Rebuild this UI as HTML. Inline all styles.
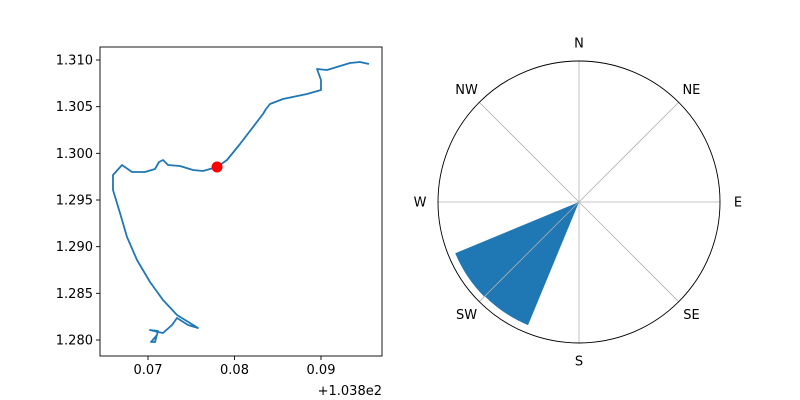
<!DOCTYPE html>
<html><head><meta charset="utf-8"><style>
html,body{margin:0;padding:0;background:#fff}
svg{display:block;font-family:"DejaVu Sans","Liberation Sans",sans-serif}
</style></head><body>
<svg id="c" width="800" height="400" viewBox="0 0 800 400"></svg>
<script>
// ---- left track data (x offset from 103.8) ----
const trackX=[0.09555,0.09451,0.09335,0.09069,0.08954,0.09000,0.09000,0.08838,0.08561,0.08410,0.08364,0.08329,0.08064,0.07913,0.07798,0.07636,0.07520,0.07370,0.07231,0.07173,0.07127,0.07081,0.06965,0.06815,0.06699,0.06595,0.06595,0.06676,0.06757,0.06873,0.07023,0.07173,0.07335,0.07578,0.07462,0.07335,0.07277,0.07173,0.07116,0.07023,0.07116,0.07081,0.07035,0.07104];
const trackY=[1.30957,1.30979,1.30968,1.30893,1.30904,1.30786,1.30679,1.30636,1.30582,1.30529,1.30475,1.30421,1.30100,1.29929,1.29854,1.29811,1.29821,1.29864,1.29875,1.29929,1.29907,1.29832,1.29800,1.29800,1.29875,1.29768,1.29607,1.29361,1.29104,1.28857,1.28621,1.28429,1.28268,1.28129,1.28161,1.28236,1.28161,1.28075,1.28086,1.28107,1.28096,1.27979,1.27979,1.28054];
const markerX=[0.07798];
const markerY=[1.29854];
const xTicks=[0.07,0.08,0.09];
const xTickLabels=["0.07","0.08","0.09"];
const yTicks=[1.280,1.285,1.290,1.295,1.300,1.305,1.310];
const yTickLabels=["1.280","1.285","1.290","1.295","1.300","1.305","1.310"];
// ---- polar data ----
const dirNames=["N","NE","E","SE","S","SW","W","NW"];
const barAngles=[213.75,236.25]; // bar centers, compass degrees
const barWidth=[22.5,22.5];
const barValues=[0.945,0.95]; // fraction of max radius

const NS="http://www.w3.org/2000/svg";
const svg=document.getElementById('c');
function mk(t,a,p){const e=document.createElementNS(NS,t);for(const k in a)e.setAttribute(k,a[k]);(p||svg).appendChild(e);return e;}

// left axes
const L=100,R=382,T=47,B=356;
const sx=v=>148+(v-0.07)*8650;
const sy=v=>60+(1.310-v)*9333.3;
const gL=mk('g',{});


let d='';
trackX.forEach((x,i)=>{d+=(i?'L':'M')+sx(x).toFixed(1)+' '+sy(trackY[i]).toFixed(1);});
const line=mk('path',{d:d,fill:'none',stroke:'#1f77b4','stroke-width':1.8,'stroke-linejoin':'round'},gL);


markerX.forEach((x,i)=>{
 const c=mk('circle',{cx:sx(x),cy:sy(markerY[i]),r:5.5,fill:'#ff0000'},gL);
 
 
});
const frame=mk('rect',{x:L,y:T,width:R-L,height:B-T,fill:'none',stroke:'#000','stroke-width':0.9},gL);


xTicks.forEach((v,i)=>{
 const x=sx(v);
 mk('line',{x1:x,x2:x,y1:B,y2:B+4,stroke:'#000','stroke-width':0.9},gL);
 const t=mk('text',{x:x,y:B+18,'text-anchor':'middle','font-size':13},gL);
 t.textContent=xTickLabels[i];
 
 
});
yTicks.forEach((v,i)=>{
 const y=sy(v);
 mk('line',{x1:L-4,x2:L,y1:y,y2:y,stroke:'#000','stroke-width':0.9},gL);
 const t=mk('text',{x:L-7,y:y+4.5,'text-anchor':'end','font-size':13},gL);
 t.textContent=yTickLabels[i];
 
 
});
const off=mk('text',{x:382,y:395,'text-anchor':'end','font-size':13},gL);
off.textContent='+1.038e2';



// polar
const cx=579,cy=202,rad=141;
const gP=mk('g',{});


const pt=(deg,r)=>{const a=deg*Math.PI/180;return [cx+r*Math.sin(a),cy-r*Math.cos(a)];};
barAngles.forEach((a,i)=>{
 const r=barValues[i]*rad,a0=a-barWidth[i]/2,a1=a+barWidth[i]/2;
 const p0=pt(a0,r),p1=pt(a1,r);
 const w=mk('path',{d:`M${cx} ${cy}L${p0[0]} ${p0[1]}A${r} ${r} 0 0 1 ${p1[0]} ${p1[1]}Z`,fill:'#1f77b4'},gP);
 
 
});
dirNames.forEach((n,i)=>{
 const a=i*45,p=pt(a,rad),q=pt(a,159);
 mk('line',{x1:cx,y1:cy,x2:p[0],y2:p[1],stroke:'#b0b0b0','stroke-width':0.8},gP);
 const t=mk('text',{x:q[0],y:q[1]+4.5,'text-anchor':'middle','font-size':13},gP);
 t.textContent=n;
 
 
});
const circ=mk('circle',{cx:cx,cy:cy,r:rad,fill:'none',stroke:'#000','stroke-width':0.9},gP);


</script>
</body></html>
